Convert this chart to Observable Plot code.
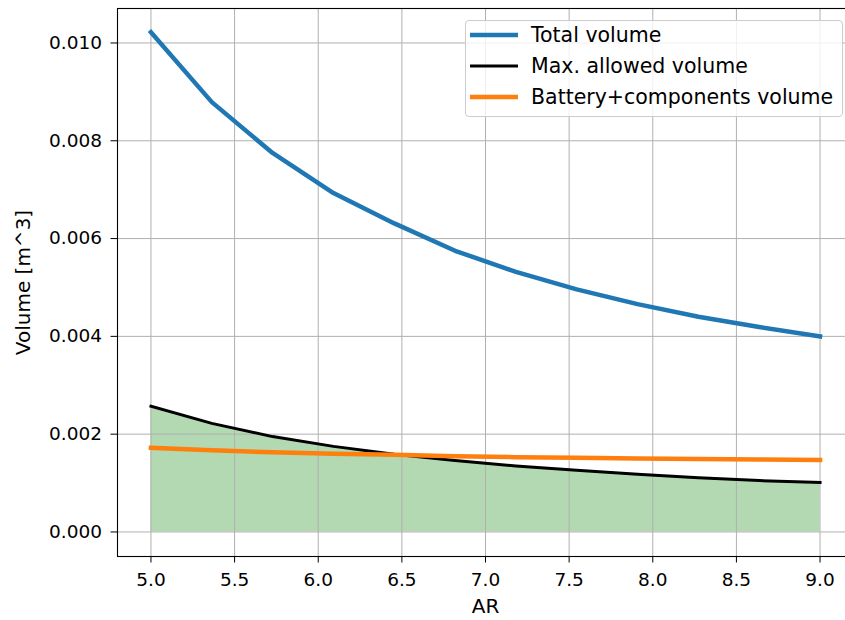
<!DOCTYPE html>
<html><head><meta charset="utf-8">
<script src="https://cdn.jsdelivr.net/npm/d3@7"></script>
<script src="https://cdn.jsdelivr.net/npm/@observablehq/plot@0.6"></script>
<style>
body{margin:0;background:#fff;font-family:"DejaVu Sans",sans-serif;}
#wrap{position:relative;width:845px;height:620px;overflow:hidden;}
#wrap svg{display:block;}
.legend{position:absolute;left:465px;top:20px;width:378px;height:97px;box-sizing:border-box;border:1px solid #cccccc;border-radius:4px;background:rgba(255,255,255,0.8);font-family:"DejaVu Sans";font-size:20.5px;color:#000;}
.row{position:absolute;left:0;height:30px;display:flex;align-items:center;white-space:nowrap;}
.row svg{margin-left:4px;margin-right:13px;}
</style></head><body>
<div id="wrap"></div>
<script>
// ---- data ----
const AR = [5.0, 5.364, 5.727, 6.091, 6.455, 6.818, 7.182, 7.545, 7.909, 8.273, 8.636, 9.0];
const totalVolume = [0.01022, 0.00879, 0.00775, 0.00693, 0.00631, 0.00575, 0.00532, 0.00496, 0.00466, 0.00440, 0.00419, 0.00400];
const maxAllowedVolume = [0.00257, 0.00222, 0.00195, 0.00175, 0.00159, 0.00146, 0.00135, 0.00126, 0.00118, 0.00111, 0.00105, 0.00101];
const batteryVolume = [0.00172, 0.00167, 0.00163, 0.00160, 0.00158, 0.00155, 0.00153, 0.00152, 0.00150, 0.00149, 0.00148, 0.00147];
const seriesNames = ["Total volume", "Max. allowed volume", "Battery+components volume"];
const seriesColors = ["#1f77b4", "#000000", "#ff7f0e"];
const seriesWidths = [4.5, 3, 4.5];
const xTicks = [5.0, 5.5, 6.0, 6.5, 7.0, 7.5, 8.0, 8.5, 9.0];
const yTicks = [0.000, 0.002, 0.004, 0.006, 0.008, 0.010];
const xLabel = "AR";
const yLabel = "Volume [m^3]";

const rows = AR.map((a, i) => ({AR: a, total: totalVolume[i], max: maxAllowedVolume[i], battery: batteryVolume[i]}));
const keys = ["total", "max", "battery"];

const chart = Plot.plot({
  width: 845,
  height: 620,
  marginTop: 8,
  marginLeft: 117,
  marginBottom: 64,
  marginRight: -8,
  style: {fontFamily: "DejaVu Sans", fontSize: "18.5px", color: "#000", background: "#fff"},
  x: {domain: [4.8, 9.2]},
  y: {domain: [-0.000502, 0.010705]},
  marks: [
    Plot.areaY(rows, {x: "AR", y1: 0, y2: "max", fill: "green", fillOpacity: 0.3}),
    Plot.gridX(xTicks, {stroke: "#b0b0b0", strokeOpacity: 1, strokeWidth: 1}),
    Plot.gridY(yTicks, {stroke: "#b0b0b0", strokeOpacity: 1, strokeWidth: 1}),
    ...keys.map((k, i) => Plot.line(rows, {x: "AR", y: k, stroke: seriesColors[i], strokeWidth: seriesWidths[i], strokeLinejoin: "round", strokeLinecap: "square"})),
    Plot.frame({stroke: "#000", strokeWidth: 1.1}),
    Plot.axisX({ticks: xTicks, tickFormat: d3.format(".1f"), tickSize: 6.5, tickPadding: 10, label: null, stroke: "#000"}),
    Plot.axisY({ticks: yTicks, tickFormat: d3.format(".3f"), tickSize: 6.5, tickPadding: 9, label: null, stroke: "#000"}),
    Plot.text([xLabel], {frameAnchor: "bottom", textAnchor: "middle", dy: 50, lineAnchor: "middle", fontSize: 20, fill: "#000"}),
    Plot.text([yLabel], {frameAnchor: "left", textAnchor: "middle", dx: -94, rotate: -90, lineAnchor: "middle", fontSize: 20, fill: "#000"})
  ]
});
const wrap = document.getElementById("wrap");
wrap.appendChild(chart);

const legend = document.createElement("div");
legend.className = "legend";
seriesNames.forEach((name, i) => {
  const r = document.createElement("div");
  r.className = "row";
  r.style.top = (-1 + i * 31) + "px";
  r.innerHTML = `<svg width="48" height="10"><line x1="0" x2="48" y1="5" y2="5" stroke="${seriesColors[i]}" stroke-width="${seriesWidths[i]}"/></svg><span>${name}</span>`;
  legend.appendChild(r);
});
wrap.appendChild(legend);
</script>
</body></html>
